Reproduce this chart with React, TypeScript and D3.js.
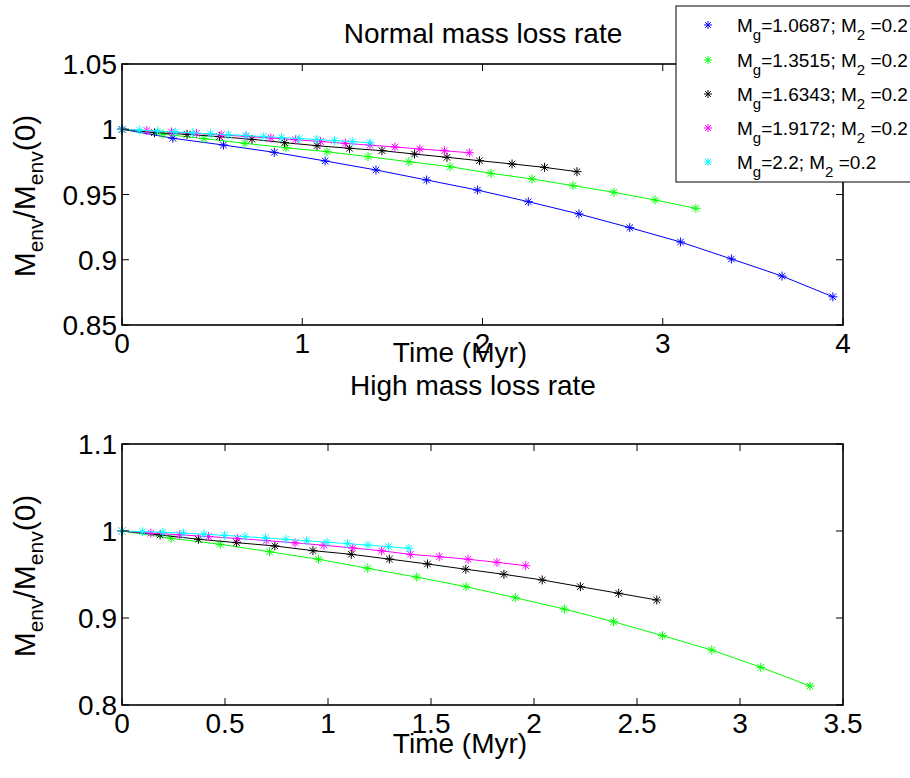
import React from "react";
import * as d3 from "d3";

// ---------- Data ----------
const seriesColors = ["#0000ff", "#00ff00", "#000000", "#ff00ff", "#00ffff"];
const legendMg = ["1.0687", "1.3515", "1.6343", "1.9172", "2.2"];
const legendM2 = "0.2";

// Top panel (Normal mass loss rate)
const topBlueT = [0, 0.282, 0.563, 0.845, 1.127, 1.409, 1.69, 1.972, 2.254, 2.535, 2.817, 3.099, 3.381, 3.662, 3.944];
const topBlueY = [1, 0.9931, 0.9879, 0.9823, 0.9757, 0.9688, 0.9611, 0.9534, 0.9445, 0.9351, 0.9246, 0.9136, 0.9006, 0.8875, 0.8716];
const topGreenT = [0, 0.227, 0.455, 0.682, 0.91, 1.137, 1.365, 1.592, 1.82, 2.047, 2.275, 2.502, 2.729, 2.957, 3.184];
const topGreenY = [1, 0.9963, 0.9928, 0.9892, 0.9858, 0.9828, 0.979, 0.9751, 0.9713, 0.9662, 0.9619, 0.9568, 0.9517, 0.9458, 0.9394];
const topBlackT = [0, 0.18, 0.361, 0.541, 0.721, 0.902, 1.082, 1.262, 1.442, 1.623, 1.803, 1.983, 2.164, 2.344, 2.524];
const topBlackY = [1, 0.9974, 0.9961, 0.9943, 0.9923, 0.9897, 0.9874, 0.9854, 0.9836, 0.981, 0.9785, 0.9759, 0.9734, 0.9708, 0.9675];
const topMagentaT = [0, 0.138, 0.275, 0.413, 0.55, 0.688, 0.826, 0.963, 1.101, 1.239, 1.376, 1.514, 1.652, 1.789, 1.927];
const topMagentaY = [1, 0.999, 0.9979, 0.9968, 0.9957, 0.9945, 0.9933, 0.992, 0.9906, 0.9892, 0.9878, 0.9864, 0.9849, 0.9835, 0.982];
const topCyanT = [0, 0.098, 0.197, 0.295, 0.393, 0.491, 0.59, 0.688, 0.786, 0.885, 0.983, 1.081, 1.179, 1.278, 1.376];
const topCyanY = [1, 0.9993, 0.9986, 0.9979, 0.9972, 0.9965, 0.9958, 0.9951, 0.9944, 0.9936, 0.9929, 0.9921, 0.9913, 0.9905, 0.9897];

// Bottom panel (High mass loss rate)
const botGreenT = [0, 0.239, 0.477, 0.716, 0.954, 1.193, 1.431, 1.67, 1.909, 2.147, 2.386, 2.624, 2.863, 3.101, 3.34];
const botGreenY = [1, 0.9916, 0.9847, 0.9762, 0.9675, 0.9571, 0.947, 0.936, 0.9233, 0.9103, 0.8957, 0.8797, 0.8632, 0.8433, 0.8218];
const botBlackT = [0, 0.185, 0.371, 0.556, 0.742, 0.927, 1.113, 1.298, 1.483, 1.669, 1.854, 2.04, 2.225, 2.411, 2.596];
const botBlackY = [1, 0.9954, 0.9905, 0.9866, 0.9828, 0.9774, 0.9732, 0.9677, 0.9621, 0.956, 0.9502, 0.9437, 0.936, 0.9284, 0.9207];
const botMagentaT = [0, 0.14, 0.28, 0.42, 0.56, 0.7, 0.84, 0.98, 1.12, 1.26, 1.4, 1.54, 1.68, 1.82, 1.96];
const botMagentaY = [1, 0.9976, 0.9956, 0.9936, 0.9914, 0.989, 0.9864, 0.9836, 0.9805, 0.9772, 0.9732, 0.9705, 0.9675, 0.964, 0.9601];
const botCyanT = [0, 0.0995, 0.199, 0.2985, 0.398, 0.4975, 0.597, 0.6965, 0.796, 0.8955, 0.995, 1.0945, 1.194, 1.2935, 1.393];
const botCyanY = [1, 0.9993, 0.9985, 0.9975, 0.9963, 0.995, 0.9936, 0.992, 0.9904, 0.9888, 0.9871, 0.9855, 0.9838, 0.982, 0.9801];

const topXTicks = [0, 1, 2, 3, 4];
const topXTickLabels = ["0", "1", "2", "3", "4"];
const topYTicks = [0.85, 0.9, 0.95, 1, 1.05];
const topYTickLabels = ["0.85", "0.9", "0.95", "1", "1.05"];
const botXTicks = [0, 0.5, 1, 1.5, 2, 2.5, 3, 3.5];
const botXTickLabels = ["0", "0.5", "1", "1.5", "2", "2.5", "3", "3.5"];
const botYTicks = [0.8, 0.9, 1, 1.1];
const botYTickLabels = ["0.8", "0.9", "1", "1.1"];

const FONT = "'Liberation Sans', Arial, Helvetica, sans-serif";

type Series = { t: number[]; y: number[]; color: string };

const topSeries: Series[] = [
  { t: topBlueT, y: topBlueY, color: seriesColors[0] },
  { t: topGreenT, y: topGreenY, color: seriesColors[1] },
  { t: topBlackT, y: topBlackY, color: seriesColors[2] },
  { t: topMagentaT, y: topMagentaY, color: seriesColors[3] },
  { t: topCyanT, y: topCyanY, color: seriesColors[4] },
];
const botSeries: Series[] = [
  { t: botGreenT, y: botGreenY, color: seriesColors[1] },
  { t: botBlackT, y: botBlackY, color: seriesColors[2] },
  { t: botMagentaT, y: botMagentaY, color: seriesColors[3] },
  { t: botCyanT, y: botCyanY, color: seriesColors[4] },
];

function Star({ x, y, color, r = 4.5 }: { x: number; y: number; color: string; r?: number }) {
  const d = r * 0.72;
  return (
    <g stroke={color} strokeWidth={1}>
      <line x1={x - r} y1={y} x2={x + r} y2={y} />
      <line x1={x} y1={y - r} x2={x} y2={y + r} />
      <line x1={x - d} y1={y - d} x2={x + d} y2={y + d} />
      <line x1={x - d} y1={y + d} x2={x + d} y2={y - d} />
    </g>
  );
}

function Panel({
  left, top, width, height, xDomain, yDomain, xTicks, xTickLabels, yTicks, yTickLabels,
  series, title, titleX, titleY, xlabelX, xlabelY, ylabelX, ylabelY, xTickLabelY,
}: any) {
  const x = d3.scaleLinear().domain(xDomain).range([left, left + width]);
  const y = d3.scaleLinear().domain(yDomain).range([top + height, top]);
  const line = d3.line<[number, number]>().x((d) => x(d[0])).y((d) => y(d[1]));
  const tl = 7;
  return (
    <g>
      {series.map((s: Series, i: number) => {
        const pts: [number, number][] = s.t.map((tt, k) => [tt, s.y[k]]);
        return (
          <g key={i}>
            <path d={line(pts) || ""} fill="none" stroke={s.color} strokeWidth={1} />
            {pts.map((p, k) => (
              <Star key={k} x={x(p[0])} y={y(p[1])} color={s.color} />
            ))}
          </g>
        );
      })}
      <rect x={left} y={top} width={width} height={height} fill="none" stroke="#000" strokeWidth={1.6} />
      {xTicks.map((v: number, i: number) => (
        <g key={"xt" + i}>
          <line x1={x(v)} x2={x(v)} y1={top + height} y2={top + height - tl} stroke="#000" strokeWidth={1} />
          <line x1={x(v)} x2={x(v)} y1={top} y2={top + tl} stroke="#000" strokeWidth={1} />
          <text x={x(v)} y={xTickLabelY} textAnchor="middle" fontSize={28} fontFamily={FONT}>
            {xTickLabels[i]}
          </text>
        </g>
      ))}
      {yTicks.map((v: number, i: number) => (
        <g key={"yt" + i}>
          <line x1={left} x2={left + tl} y1={y(v)} y2={y(v)} stroke="#000" strokeWidth={1} />
          <line x1={left + width} x2={left + width - tl} y1={y(v)} y2={y(v)} stroke="#000" strokeWidth={1} />
          <text x={left - 5} y={y(v)} dy="0.36em" textAnchor="end" fontSize={28} fontFamily={FONT}>
            {yTickLabels[i]}
          </text>
        </g>
      ))}
      <text x={titleX} y={titleY} textAnchor="middle" fontSize={28} fontFamily={FONT}>
        {title}
      </text>
      <text x={xlabelX} y={xlabelY} textAnchor="middle" fontSize={28} fontFamily={FONT}>
        Time (Myr)
      </text>
      <text transform={`translate(${ylabelX},${ylabelY}) rotate(-90)`} textAnchor="middle" fontSize={30} fontFamily={FONT}>
        M<tspan fontSize={21} dy="8">env</tspan>
        <tspan dy="-8">/M</tspan>
        <tspan fontSize={21} dy="8">env</tspan>
        <tspan dy="-8">(0)</tspan>
      </text>
    </g>
  );
}

export default function App() {
  const legendTop = 6;
  const legendRowY = [25, 60, 94, 128, 162];
  return (
    <div style={{ position: "absolute", left: 0, top: 0 }}>
      <svg width={910} height={778} style={{ display: "block", background: "#fff" }}>
        <rect x={0} y={0} width={910} height={778} fill="#fff" />
        <Panel
          left={122} top={64} width={721} height={261}
          xDomain={[0, 4]} yDomain={[0.85, 1.05]}
          xTicks={topXTicks} xTickLabels={topXTickLabels}
          yTicks={topYTicks} yTickLabels={topYTickLabels}
          series={topSeries}
          title="Normal mass loss rate" titleX={483} titleY={43}
          xlabelX={460} xlabelY={362} ylabelX={35} ylabelY={196}
          xTickLabelY={353}
        />
        <Panel
          left={122} top={444} width={721} height={261}
          xDomain={[0, 3.5]} yDomain={[0.8, 1.1]}
          xTicks={botXTicks} xTickLabels={botXTickLabels}
          yTicks={botYTicks} yTickLabels={botYTickLabels}
          series={botSeries}
          title="High mass loss rate" titleX={473} titleY={395}
          xlabelX={460} xlabelY={753} ylabelX={35} ylabelY={576}
          xTickLabelY={733}
        />
        {/* Legend */}
        <rect x={676} y={legendTop} width={240} height={176} fill="#fff" stroke="#000" strokeWidth={1} />
        {legendMg.map((mg, i) => (
          <g key={"lg" + i}>
            <Star x={708} y={legendRowY[i]} color={seriesColors[i]} r={4} />
            <text x={737} y={legendRowY[i] + 7} fontSize={19} fontFamily={FONT}>
              M<tspan fontSize={15} dy="8">g</tspan>
              <tspan dy="-8">={mg}; M</tspan>
              <tspan fontSize={15} dy="8">2</tspan>
              <tspan dy="-8"> ={legendM2}</tspan>
            </text>
          </g>
        ))}
      </svg>
    </div>
  );
}
